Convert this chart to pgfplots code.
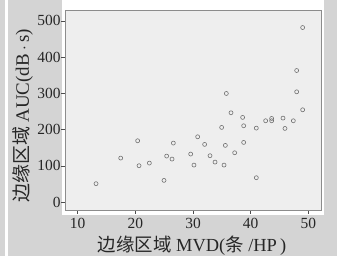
\documentclass[border=0pt]{standalone}
\usepackage{pgfplots}
\pgfplotsset{compat=1.18}
\usepackage{fontspec}
\setmainfont{Liberation Serif}
\newfontfamily\cjk{Noto Sans CJK SC}
\definecolor{bggray}{HTML}{D4D4D4}
\definecolor{plotbg}{HTML}{EEEEEE}
\definecolor{framegray}{HTML}{8C8C8C}
\definecolor{markgray}{HTML}{707070}
\begin{document}
\begin{tikzpicture}[x=1bp,y=1bp]
\fill[bggray] (0,0) rectangle (337,256);
\fill[white] (5,0) rectangle (8,256);
\fill[white] (62,41) rectangle (324,256);
\begin{axis}[at={(65bp,46bp)}, anchor=south west, width=256bp, height=200bp, scale only axis,
 xmin=7.8, xmax=52.2, ymin=-22, ymax=530,
 xtick={10,20,30,40,50}, ytick={0,100,...,500},
 axis background/.style={fill=plotbg},
 axis line style={framegray, line width=0.8pt},
 tick align=outside, tick style={black!70, line width=0.5pt}, major tick length=4bp,
 xtick pos=bottom, ytick pos=left,
 tick label style={font=\fontsize{15.5}{16}\selectfont, text=black!85},
 xticklabel style={yshift=-3bp, inner sep=1bp},
 yticklabel style={xshift=3bp},
 /pgf/number format/assume math mode=true,
 ]
\addplot[only marks, mark=o, mark size=2bp, mark options={markgray, line width=0.6pt}] table {
x y
13.18 50.6
17.46 121.3
20.40 169.1
20.64 100.2
22.43 107.5
24.97 59.7
25.43 126.8
26.36 118.6
26.59 162.7
29.60 132.4
30.17 102.0
30.81 180.1
32.02 159.0
32.95 127.8
33.82 110.3
34.97 205.9
35.38 102.0
35.61 156.3
35.78 299.6
36.59 246.3
37.23 136.0
38.61 233.5
38.79 164.5
38.79 210.5
40.98 204.0
40.98 67.1
42.60 224.3
43.64 230.7
43.64 224.3
45.61 231.6
45.95 203.1
47.40 224.3
47.98 363.0
47.98 304.2
49.02 254.6
49.02 481.6
};
\end{axis}
\node[rotate=90, font=\fontsize{19}{19}\selectfont, text=black!85] at (23,140) {{\cjk 边缘区域} AUC(dB\,$\cdot$\,s)};
\node[font=\fontsize{18.5}{18.5}\selectfont, text=black!85, inner sep=1bp] at (192,10) {{\cjk 边缘区域} MVD({\cjk 条} /HP\,)};
\end{tikzpicture}
\end{document}
